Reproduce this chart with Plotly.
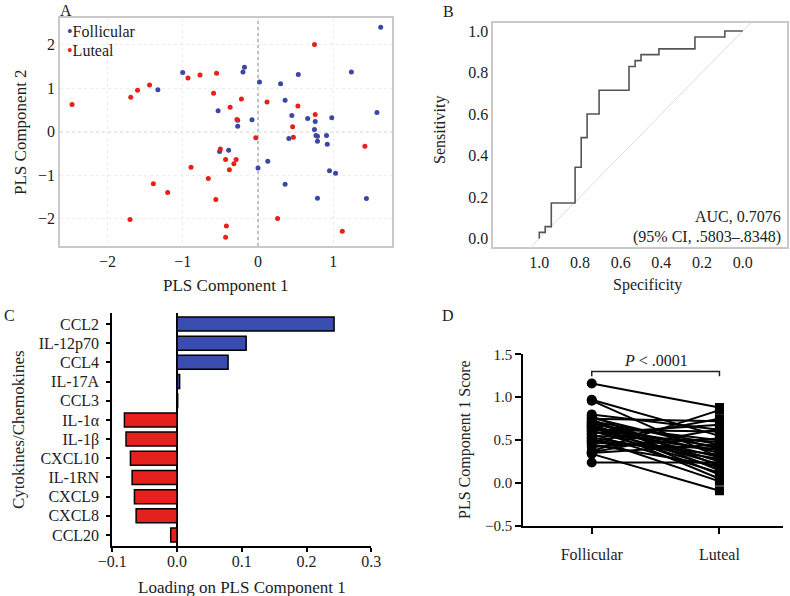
import plotly.graph_objects as go

# ---------------- Data ----------------
# Panel A: PLS scores
fol_pls1 = [-1.33, -1.00, -0.18, -0.20, -0.53, -0.27, -0.08, -0.27, 0.02, 1.63, 0.535, 1.24,
            0.30, 0.36, 0.45, 0.66, 0.76, 0.98, 1.58, 0.75, 0.77, 0.79, 0.91, 0.41, 0.79,
            0.92, -0.51, -0.39, 0.13, 0.00, 0.95, 1.03, 0.36, 0.79, 1.44]
fol_pls2 = [0.96, 1.36, 1.48, 1.37, 0.48, 0.26, 0.27, 0.12, 1.14, 2.40, 1.31, 1.37,
            1.10, 0.72, 0.37, 0.30, 0.23, 0.32, 0.44, 0.05, -0.09, -0.11, -0.09, -0.16, -0.22,
            -0.29, -0.46, -0.43, -0.68, -0.84, -0.90, -0.96, -1.21, -1.53, -1.54]
lut_pls1 = [-2.47, -1.69, -1.60, -1.44, -0.93, -0.77, -0.55, -0.59, -0.22, -0.37, -0.28, -0.03,
            0.75, 0.12, 0.53, 0.76, 0.46, 0.47, 1.42, -0.50, -0.43, -0.29, -0.32, -0.38,
            -0.66, -0.56, 0.26, -0.42, -0.43, 1.12, -0.89, -1.39, -1.20, -1.70]
lut_pls2 = [0.62, 0.79, 0.95, 1.07, 1.23, 1.30, 1.34, 0.88, 0.75, 0.56, 0.28, -0.14,
            2.00, 0.68, 0.59, 0.39, 0.11, -0.13, -0.34, -0.40, -0.64, -0.64, -0.74, -0.88,
            -1.08, -1.56, -2.00, -2.17, -2.43, -2.29, -0.82, -1.20, -1.40, -2.02]
a_ticks = [-2, -1, 0, 1, 2]

# Panel B: ROC curve (step vertices)
roc_specificity = [1.0, 1.0, 0.971, 0.941, 0.824, 0.794, 0.765, 0.706, 0.559, 0.529, 0.500,
                   0.412, 0.235, 0.088, 0.0]
roc_sensitivity = [0.0, 0.029, 0.057, 0.171, 0.343, 0.486, 0.600, 0.714, 0.829, 0.857, 0.886,
                   0.914, 0.971, 1.0, 1.0]
b_ticks = [0.0, 0.2, 0.4, 0.6, 0.8, 1.0]
auc_text = ["AUC, 0.7076", "(95% CI, .5803–.8348)"]

# Panel C: loadings
cytokines = ["CCL2", "IL-12p70", "CCL4", "IL-17A", "CCL3", "IL-1α", "IL-1β", "CXCL10",
             "IL-1RN", "CXCL9", "CXCL8", "CCL20"]
loadings = [0.2425, 0.1067, 0.0788, 0.004, 0.001, -0.0813, -0.0788, -0.072, -0.0694,
            -0.0658, -0.0632, -0.0098]
c_ticks = [-0.1, 0.0, 0.1, 0.2, 0.3]

# Panel D: paired scores
phases = ["Follicular", "Luteal"]
d_follicular = [1.16, 0.97, 0.96, 0.80, 0.78, 0.76, 0.75, 0.74, 0.72, 0.71, 0.70, 0.69, 0.68,
                0.67, 0.66, 0.65, 0.64, 0.62, 0.61, 0.60, 0.58, 0.57, 0.55, 0.53, 0.52, 0.50,
                0.48, 0.47, 0.45, 0.42, 0.37, 0.36, 0.35, 0.34, 0.24]
d_luteal = [0.88, 0.55, 0.30, 0.62, 0.20, 0.40, 0.72, 0.15, 0.45, 0.25, 0.35, 0.10, 0.50,
            0.05, 0.30, 0.42, 0.22, 0.60, 0.18, 0.38, 0.68, 0.12, 0.48, 0.28, 0.02, 0.33,
            0.75, 0.40, 0.20, 0.52, 0.85, 0.63, 0.45, -0.09, 0.24]
d_ticks = [-0.5, 0.0, 0.5, 1.0, 1.5]
bracket_y, bracket_end_y, p_label_y = 1.30, 1.245, 1.43

# ---------------- Style ----------------
W, H = 790, 596
FONT = "Liberation Serif"
TXT = "#222222"
BLUE_PT, RED_PT = "#3b47a3", "#e8201a"
BLUE_BAR, RED_BAR = "#3a4cb0", "#e5201d"


def px(x):
    return x / W


def py(y):
    return 1 - y / H


tickfont = dict(family=FONT, size=16, color=TXT)

fig = go.Figure()

# Panel A
fig.add_trace(go.Scatter(x=fol_pls1, y=fol_pls2, mode="markers", xaxis="x", yaxis="y",
                         marker=dict(color=BLUE_PT, size=5), showlegend=False))
fig.add_trace(go.Scatter(x=lut_pls1, y=lut_pls2, mode="markers", xaxis="x", yaxis="y",
                         marker=dict(color=RED_PT, size=5), showlegend=False))

# Panel B
fig.add_trace(go.Scatter(x=roc_specificity, y=roc_sensitivity, mode="lines", line_shape="hv",
                         xaxis="x2", yaxis="y2", line=dict(color="#555555", width=1.6),
                         showlegend=False))

# Panel C
fig.add_trace(go.Bar(y=cytokines, x=loadings, orientation="h", xaxis="x3", yaxis="y3",
                     marker=dict(color=[BLUE_BAR if v > 0 else RED_BAR for v in loadings],
                                 line=dict(color="black", width=1.5)),
                     showlegend=False))

# Panel D
lx, ly = [], []
for f, l in zip(d_follicular, d_luteal):
    lx += [phases[0], phases[1], None]
    ly += [f, l, None]
fig.add_trace(go.Scatter(x=lx, y=ly, mode="lines", xaxis="x4", yaxis="y4",
                         line=dict(color="black", width=2), showlegend=False, connectgaps=False))
fig.add_trace(go.Scatter(x=[phases[0]] * len(d_follicular), y=d_follicular, mode="markers",
                         xaxis="x4", yaxis="y4", marker=dict(symbol="circle", size=10, color="black"),
                         showlegend=False))
fig.add_trace(go.Scatter(x=[phases[1]] * len(d_luteal), y=d_luteal, mode="markers",
                         xaxis="x4", yaxis="y4", marker=dict(symbol="square", size=9, color="black"),
                         showlegend=False))

frame = dict(showline=True, mirror=True, linecolor="#c9c9c9", linewidth=1.5)

fig.update_layout(
    template="none",
    width=W, height=H, margin=dict(l=0, r=0, t=0, b=0, autoexpand=False),
    paper_bgcolor="white", plot_bgcolor="white",
    font=dict(family=FONT, size=16, color=TXT),
    xaxis=dict(domain=[px(60), px(392)], range=[-2.63, 1.78], anchor="y", automargin=False,
               tickvals=a_ticks[:4], showgrid=True, gridcolor="#ececec", griddash="dot",
               zeroline=False, ticks="", tickfont=tickfont, **frame),
    yaxis=dict(domain=[py(246), py(18)], range=[-2.63, 2.61], anchor="x", automargin=False,
               tickvals=a_ticks, showgrid=True, gridcolor="#ececec", griddash="dot",
               zeroline=False, ticks="", tickfont=tickfont, **frame),
    xaxis2=dict(domain=[px(493.3), px(786.7)], range=[1.226, -0.216], anchor="y2",
                automargin=False,
                tickvals=b_ticks, tickformat=".1f", showgrid=False, zeroline=False,
                ticks="", tickfont=tickfont, **frame),
    yaxis2=dict(domain=[py(246.7), py(22.7)], range=[-0.04, 1.04], anchor="x2",
                automargin=False,
                tickvals=b_ticks, tickformat=".1f", showgrid=False, zeroline=False,
                ticks="", tickfont=tickfont, **frame),
    xaxis3=dict(domain=[px(112.3), px(371.3)], range=[-0.1, 0.3], anchor="y3",
                automargin=False,
                tickvals=c_ticks, tickformat=".1f", showgrid=False,
                zeroline=True, zerolinecolor="black", zerolinewidth=2,
                showline=True, linecolor="black", linewidth=2,
                ticks="outside", ticklen=4, tickwidth=1.5, tickcolor="black", tickfont=tickfont,
                ticklabelstandoff=-4),
    yaxis3=dict(domain=[py(546), py(313)], anchor="x3", type="category", automargin=False,
                categoryorder="array", categoryarray=cytokines,
                tickmode="array", tickvals=cytokines,
                range=[len(cytokines) - 1 + 0.57, -0.57], showgrid=False, zeroline=False,
                showline=True, linecolor="black", linewidth=2,
                ticks="outside", ticklen=4, tickwidth=1.5, tickcolor="black", tickfont=tickfont,
                ticklabelstandoff=4),
    bargap=0.27,
    xaxis4=dict(domain=[px(523.3), px(783.3)], anchor="y4", type="category", automargin=False,
                categoryorder="array", categoryarray=phases, range=[-0.536, 1.5],
                showgrid=False, zeroline=False, showline=True, linecolor="black", linewidth=2,
                ticks="outside", ticklen=6, tickwidth=2, tickcolor="black",
                tickfont=tickfont, ticklabelstandoff=7),
    yaxis4=dict(domain=[py(526), py(354.3)], anchor="x4", range=[-0.5, 1.5], automargin=False,
                tickvals=d_ticks, tickformat=".1f", showgrid=False, zeroline=False,
                showline=True, linecolor="black", linewidth=2,
                ticks="outside", ticklen=6, tickwidth=2, tickcolor="black",
                tickfont=dict(family=FONT, size=15, color=TXT)),
)

shapes = [
    # Panel A dotted zero lines
    dict(type="line", xref="x", yref="y domain", x0=0, x1=0, y0=0, y1=1,
         line=dict(color="#9a9a9a", width=1.2, dash="dot"), layer="below"),
    dict(type="line", xref="x domain", yref="y", x0=0, x1=1, y0=0, y1=0,
         line=dict(color="#9a9a9a", width=1.2, dash="dot"), layer="below"),
    # Panel B chance diagonal
    dict(type="line", xref="x2", yref="y2", x0=1.04, y0=-0.04, x1=-0.04, y1=1.04,
         line=dict(color="#dcdcdc", width=1), layer="below"),
    # Panel D bracket
    dict(type="path", xref="x4", yref="y4",
         path=f"M 0,{bracket_end_y} L 0,{bracket_y} L 1,{bracket_y} L 1,{bracket_end_y}",
         line=dict(color="#222222", width=1.5)),
]
fig.update_layout(shapes=shapes)


def ann(x, y, text, size=16, angle=0, xanchor="center", yanchor="middle", **kw):
    return dict(x=px(x), y=py(y), xref="paper", yref="paper", text=text, showarrow=False,
                font=dict(family=FONT, size=size, color=TXT), textangle=angle,
                xanchor=xanchor, yanchor=yanchor, **kw)


annotations = [
    # panel letters
    ann(66, 10, "A", size=16),
    ann(448, 12, "B", size=16),
    ann(9, 315, "C", size=16),
    ann(448, 315, "D", size=16),
    # Panel A legend
    ann(65, 31.5, f"<span style='color:{BLUE_PT}'>•</span>Follicular", xanchor="left"),
    ann(65, 50, f"<span style='color:{RED_PT}'>•</span>Luteal", xanchor="left"),
    # axis titles
    ann(226, 285, "PLS Component 1", size=17),
    ann(20, 132, "PLS Component 2", size=17, angle=-90),
    ann(440, 130, "Sensitivity", size=16, angle=-90),
    ann(647, 285, "Specificity", size=16),
    ann(242, 587, "Loading on PLS Component 1", size=17),
    ann(18, 430, "Cytokines/Chemokines", size=17, angle=-90),
    ann(465, 440, "PLS Component 1 Score", size=16, angle=-90),
    # Panel B AUC text
    ann(783, 216.5, auc_text[0], xanchor="right"),
    ann(783, 236.5, auc_text[1], xanchor="right"),
    # Panel D p-value
    dict(x=0.5, y=p_label_y, xref="x4", yref="y4", text="<i>P</i> < .0001", showarrow=False,
         font=dict(family=FONT, size=16, color=TXT), xanchor="center", yanchor="middle"),
]
fig.update_layout(annotations=annotations)

fig.write_html("out.html", config={"displayModeBar": False},
               post_script="document.body.style.margin='0';document.body.style.overflow='hidden';")
